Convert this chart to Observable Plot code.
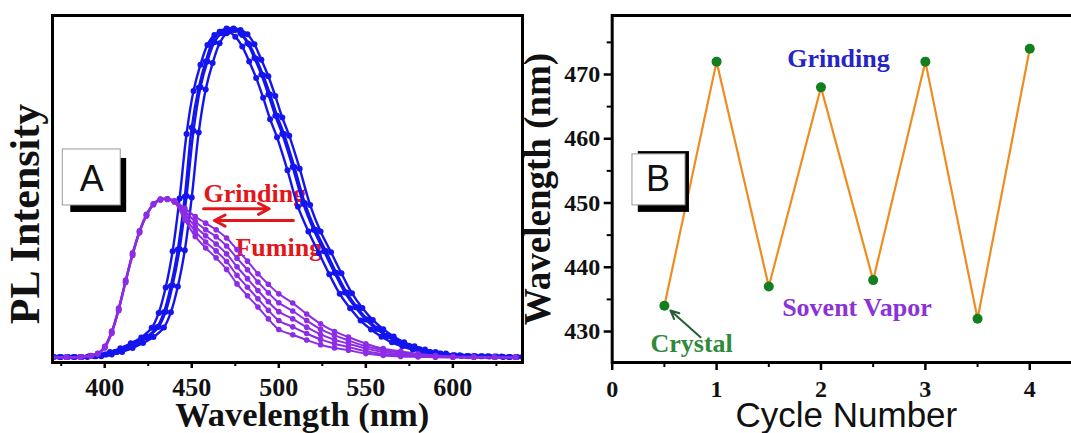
<!DOCTYPE html>
<html><head><meta charset="utf-8">
<script src="https://cdn.jsdelivr.net/npm/d3@7"></script>
<script src="https://cdn.jsdelivr.net/npm/@observablehq/plot@0.6"></script>
<style>
html,body{margin:0;padding:0;background:#fff;overflow:hidden;}
#wrap{position:relative;width:1071px;height:433px;overflow:hidden;background:#fff;}
#a{position:absolute;left:0;top:0;width:540px;}
#b{position:absolute;left:500px;top:0;width:580px;}
</style></head>
<body><div id="wrap"><div id="a"></div><div id="b"></div></div>
<script>
// ---------- Panel A data: PL spectra ----------
const blueWl1 = [367,375,383,391,397,403,409,415,421,427,431,435,439,443,447,451,455,459,463,467,471,475,479,483,487,491,495,499,505,511,517,523,529,535,541,547,553,559,565,571,577,583,589,597,605,613,621,629,637];
const blueY1  = [.005,.005,.005,.007,.012,.02,.031,.046,.064,.093,.138,.215,.325,.485,.68,.81,.89,.95,.98,.99,.99,.975,.945,.9,.85,.79,.725,.67,.57,.46,.385,.32,.255,.196,.152,.115,.088,.066,.049,.037,.027,.02,.015,.01,.008,.007,.006,.005,.005];
const blueWl2 = [370,378,386,394,400,406,412,418,424,430,434,438,442,446,450,454,458,462,466,470,474,478,482,486,490,494,498,502,508,514,520,526,532,538,544,550,556,562,568,574,580,586,592,600,608,616,624,632,640];
const blueY2  = [.005,.005,.005,.007,.012,.02,.032,.047,.065,.095,.14,.22,.33,.49,.7,.82,.9,.96,.99,1.0,1.0,.985,.955,.91,.86,.8,.735,.68,.58,.47,.39,.325,.26,.2,.155,.118,.09,.068,.05,.038,.028,.02,.015,.01,.008,.007,.006,.005,.005];
const blueWl3 = [371,379,387,395,401,407,413,419,425,431,435,439,443,447,451,455,459,463,467,471,475,479,483,487,491,495,499,503,509,515,521,527,533,539,545,551,557,563,569,575,581,587,593,601,609,617,625,633,641];
const blueY3  = [.005,.005,.005,.007,.012,.02,.032,.047,.066,.096,.142,.222,.332,.492,.69,.822,.9,.958,.985,.995,.995,.98,.952,.908,.858,.8,.735,.68,.58,.47,.39,.326,.26,.2,.155,.118,.09,.068,.05,.038,.028,.02,.015,.01,.008,.007,.006,.005,.005];
const blueWl4 = [374,382,390,398,404,410,416,422,428,434,438,442,446,450,454,458,462,466,470,474,478,482,486,490,494,498,502,506,512,518,524,530,536,542,548,554,560,566,572,578,584,590,596,604,612,620,628,636,644];
const blueY4  = [.005,.005,.005,.007,.012,.02,.032,.047,.065,.094,.14,.218,.328,.488,.685,.815,.895,.955,.985,.995,.995,.982,.952,.905,.855,.795,.73,.675,.575,.465,.385,.322,.258,.198,.153,.117,.089,.067,.049,.037,.027,.02,.015,.01,.008,.007,.006,.005,.005];

const purpleWl = [370,378,386,392,396,400,404,408,412,416,420,424,428,432,436,440,446,452,458,464,470,476,482,488,494,500,508,516,524,532,540,550,560,570,580,590,600,612,624,636];
const purpleY1 = [.004,.004,.005,.008,.015,.035,.08,.15,.235,.317,.385,.435,.468,.482,.484,.478,.455,.43,.41,.39,.365,.33,.295,.257,.225,.196,.168,.135,.105,.082,.065,.045,.03,.022,.014,.009,.006,.005,.004,.004];
const purpleY2 = [.004,.004,.005,.009,.016,.037,.083,.153,.238,.32,.387,.437,.469,.483,.484,.477,.446,.415,.39,.369,.341,.304,.269,.232,.199,.169,.144,.115,.089,.07,.055,.037,.025,.018,.012,.008,.005,.004,.004,.004];
const purpleY3 = [.004,.004,.005,.008,.014,.033,.077,.146,.231,.313,.382,.433,.467,.481,.483,.476,.437,.40,.372,.347,.317,.278,.242,.206,.172,.142,.12,.095,.073,.057,.045,.03,.02,.014,.01,.007,.005,.004,.004,.004];
const purpleY4 = [.004,.004,.005,.008,.015,.036,.081,.151,.236,.318,.386,.436,.468,.482,.483,.475,.429,.385,.353,.326,.294,.252,.216,.181,.146,.115,.096,.076,.058,.045,.035,.022,.014,.01,.007,.005,.004,.004,.004,.004];
const purpleY5 = [.004,.004,.005,.007,.014,.032,.076,.145,.23,.312,.381,.432,.466,.48,.482,.474,.42,.37,.335,.305,.27,.226,.19,.156,.12,.088,.072,.056,.042,.032,.025,.015,.009,.006,.005,.004,.004,.004,.004,.004];

const xTicksA = [400, 450, 500, 550, 600];
const xMinorA = [375, 425, 475, 525, 575, 625];

// ---------- Panel B data: switching cycles ----------
const cycles = [0.5, 1, 1.5, 2, 2.5, 3, 3.5, 4];
const peakWl = [434, 472, 437, 468, 438, 472, 432, 474];
const xTicksB = [0, 1, 2, 3, 4];
const xMinorB = [0.5, 1.5, 2.5, 3.5];
const yTicksB = [430, 440, 450, 460, 470];
const yMinorB = [435, 445, 455, 465, 475];

// ---------- styling ----------
const serif = "'Liberation Serif','Times New Roman',serif";
const sans = "'Liberation Sans',Arial,sans-serif";
const BLUE = "#1414ee", PURPLE = "#8c2ce4", RED = "#e3161b";

function rows(wl, v, id) { return wl.map((w, i) => ({wl: w, v: v[i], id})); }
const blueRows = [].concat(
  rows(blueWl1, blueY1, "b1"), rows(blueWl2, blueY2, "b2"),
  rows(blueWl3, blueY3, "b3"), rows(blueWl4, blueY4, "b4"));
const purpleRows = [].concat(
  rows(purpleWl, purpleY1, "p1"), rows(purpleWl, purpleY2, "p2"), rows(purpleWl, purpleY3, "p3"),
  rows(purpleWl, purpleY4, "p4"), rows(purpleWl, purpleY5, "p5"));

// annotations (data coordinates)
const annotA = [
  {x: 456.8, y: 0.474, text: "Grinding"},
  {x: 475.1, y: 0.312, text: "Fuming"}
];
const arrowsA = [
  {x1: 456.8, y1: 0.4536, x2: 494.5, y2: 0.4536},
  {x1: 508.4, y1: 0.418, x2: 463.0, y2: 0.418}
];
const boxA = {shadow: {x1: 380.5, x2: 412.6, y1: 0.606, y2: 0.4424}, box: {x1: 375.9, x2: 409.2, y1: 0.6333, y2: 0.4636}, label: {x: 392.5, y: 0.5424, text: "A"}};

const A = Plot.plot({
  width: 540, height: 433,
  marginLeft: 52, marginRight: 18, marginTop: 15, marginBottom: 71,
  x: {domain: [370, 640]},
  y: {domain: [-0.012, 1.039], axis: null},
  style: {fontFamily: serif, background: "white"},
  marks: [
    Plot.text(annotA, {x: "x", y: "y", text: "text", fill: RED, fontSize: 26, fontWeight: "bold", fontFamily: serif, textAnchor: "start", lineAnchor: "bottom"}),
    Plot.arrow(arrowsA, {x1: "x1", y1: "y1", x2: "x2", y2: "y2", stroke: RED, strokeWidth: 3, headLength: 6, headAngle: 55}),
    Plot.line(blueRows, {x: "wl", y: "v", z: "id", stroke: BLUE, strokeWidth: 2.4, curve: "catmull-rom", clip: true}),
    Plot.dot(blueRows, {x: "wl", y: "v", r: 3, fill: BLUE, clip: true}),
    Plot.line(purpleRows, {x: "wl", y: "v", z: "id", stroke: PURPLE, strokeWidth: 2, curve: "catmull-rom", clip: true}),
    Plot.dot(purpleRows, {x: "wl", y: "v", r: 2.8, fill: PURPLE, clip: true}),
    Plot.rect([boxA.shadow], {x1: "x1", x2: "x2", y1: "y1", y2: "y2", fill: "black"}),
    Plot.rect([boxA.box], {x1: "x1", x2: "x2", y1: "y1", y2: "y2", fill: "white", stroke: "#9a9a9a", strokeWidth: 1}),
    Plot.text([boxA.label], {x: "x", y: "y", text: "text", fontFamily: sans, fontSize: 36, fill: "#111"}),
    Plot.frame({stroke: "black", strokeWidth: 3}),
    Plot.axisX(xTicksA, {tickSize: 6, strokeWidth: 2.5, tickPadding: 9, fontSize: 26, fontWeight: "bold", fontFamily: serif, fill: "#111", label: null, tickFormat: d => String(d)}),
    Plot.axisX(xMinorA, {tickSize: 4, strokeWidth: 2, text: null, label: null}),
    Plot.text(["PL Intensity"], {text: d => d, frameAnchor: "left", textAnchor: "middle", rotate: -90, dx: -13.5, dy: 25, lineAnchor: "bottom", fontSize: 42, fontWeight: "bold", fontFamily: serif, fill: "#111"}),
    Plot.text(["Wavelength (nm)"], {text: d => d, frameAnchor: "bottom", textAnchor: "middle", dx: 14.7, dy: 63.5, lineAnchor: "bottom", fontSize: 34.5, fontWeight: "bold", fontFamily: serif, fill: "#111"})
  ]
});
document.getElementById("a").append(A);

// ---------- Panel B ----------
const cycleRows = cycles.map((c, i) => ({cycle: c, wl: peakWl[i]}));
const annotB = [
  {x: 1.676, y: 471.14, text: "Grinding", color: "#2424c8"},
  {x: 1.628, y: 432.49, text: "Sovent Vapor", color: "#8b33d6"},
  {x: 0.367, y: 426.78, text: "Crystal", color: "#2f8a3c"}
];
const arrowB = [{x1: 0.846, y1: 429.11, x2: 0.558, y2: 433.27}];
const boxB = {shadow: {x1: 0.25, x2: 0.74, y1: 458.0, y2: 448.54}, box: {x1: 0.194, x2: 0.702, y1: 457.57, y2: 449.63}, label: {x: 0.438, y: 453.68, text: "B"}};

const B = Plot.plot({
  width: 580, height: 433,
  marginLeft: 111.7, marginRight: 0, marginTop: 15, marginBottom: 71,
  x: {domain: [0, 4.486]},
  y: {domain: [425.18, 479.18]},
  style: {fontFamily: serif, background: "transparent"},
  marks: [
    Plot.line(cycleRows, {x: "cycle", y: "wl", stroke: "#ef8c20", strokeWidth: 2.2}),
    Plot.dot(cycleRows, {x: "cycle", y: "wl", r: 5, fill: "#147f1e"}),
    Plot.arrow(arrowB, {x1: "x1", y1: "y1", x2: "x2", y2: "y2", stroke: "#235e34", strokeWidth: 2, headLength: 7, headAngle: 50}),
    Plot.text(annotB, {x: "x", y: "y", text: "text", fill: "color", fontSize: 26, fontWeight: "bold", fontFamily: serif, textAnchor: "start", lineAnchor: "bottom"}),
    Plot.rect([boxB.shadow], {x1: "x1", x2: "x2", y1: "y1", y2: "y2", fill: "black"}),
    Plot.rect([boxB.box], {x1: "x1", x2: "x2", y1: "y1", y2: "y2", fill: "white", stroke: "#9a9a9a", strokeWidth: 1}),
    Plot.text([boxB.label], {x: "x", y: "y", text: "text", fontFamily: sans, fontSize: 36, fill: "#111"}),
    Plot.frame({stroke: "black", strokeWidth: 3}),
    Plot.axisX(xTicksB, {tickSize: 8, strokeWidth: 2.5, tickPadding: 9, fontSize: 24, fontWeight: "bold", fontFamily: serif, fill: "#111", label: null, tickFormat: d => String(d)}),
    Plot.axisX(xMinorB, {tickSize: 5, strokeWidth: 2, text: null, label: null}),
    Plot.axisY(yTicksB, {tickSize: 8, strokeWidth: 2.5, tickPadding: 4, fontSize: 24, fontWeight: "bold", fontFamily: serif, fill: "#111", label: null, tickFormat: d => String(d)}),
    Plot.axisY(yMinorB, {tickSize: 5, strokeWidth: 2, text: null, label: null}),
    Plot.text(["Wavelength (nm)"], {text: d => d, frameAnchor: "left", textAnchor: "middle", rotate: -90, dx: -61.7, dy: 0, lineAnchor: "bottom", fontSize: 37, fontWeight: "bold", fontFamily: serif, fill: "#111"}),
    Plot.text(["Cycle Number"], {text: d => d, frameAnchor: "bottom", textAnchor: "middle", dx: 0, dy: 64, lineAnchor: "bottom", fontSize: 35, fontFamily: sans, fill: "#111"})
  ]
});
document.getElementById("b").append(B);
</script></body></html>
